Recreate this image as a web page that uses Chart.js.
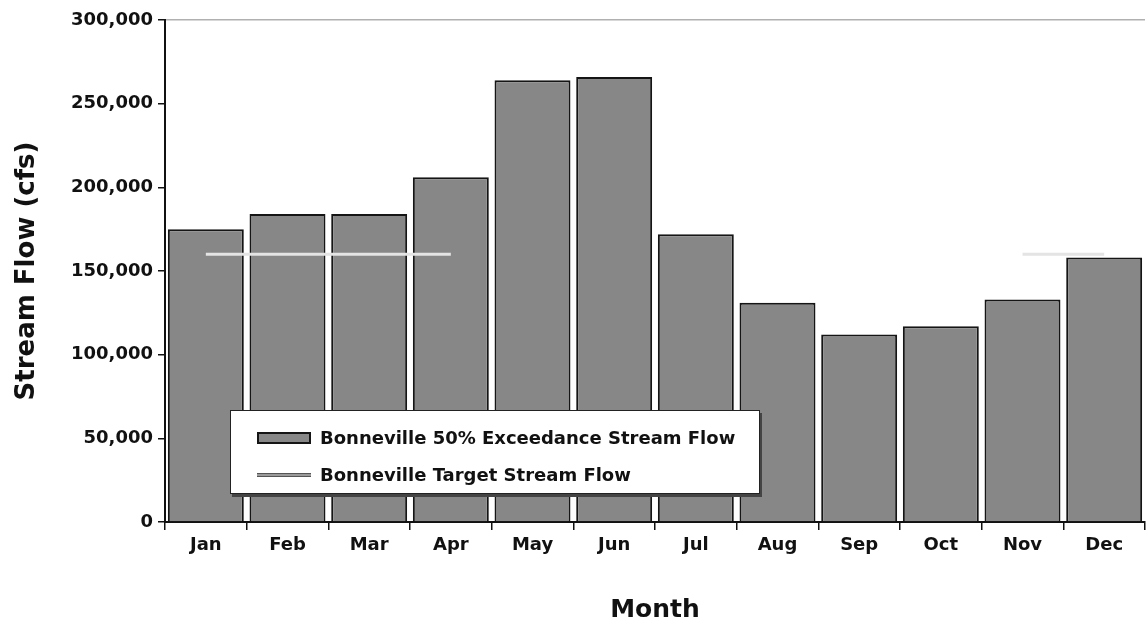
<!DOCTYPE html>
<html>
<head>
<meta charset="utf-8">
<script src="https://cdn.jsdelivr.net/npm/chart.js@4.4.1/dist/chart.umd.min.js"></script>
<style>
  html, body { margin: 0; padding: 0; background: #ffffff; }
  #wrap { position: relative; width: 1148px; height: 629px; }
  canvas { display: block; }
  #legend {
    position: absolute; left: 230px; top: 410px; width: 530px; height: 84px;
    background: #ffffff; border: 1.5px solid #222; box-shadow: 2px 3px 0 #444;
    font-family: "DejaVu Sans", "Liberation Sans", Arial, sans-serif; font-weight: bold; font-size: 18px; color: #111;
    box-sizing: border-box; padding: 8px 0 0 26px; white-space: nowrap;
  }
  .item { display: flex; align-items: center; height: 37px; }
  .sw { width: 54px; height: 12px; margin-right: 9px; box-sizing: border-box; flex: none; }
</style>
</head>
<body>
<div id="wrap">
  <canvas id="c" width="1148" height="629"></canvas>
  <div id="legend"></div>
</div>
<script>
const months = ['Jan','Feb','Mar','Apr','May','Jun','Jul','Aug','Sep','Oct','Nov','Dec'];
const exceedanceFlow = [175000, 184000, 184000, 206000, 264000, 266000, 172000, 131000, 112000, 117000, 133000, 158000];
const targetFlow = [160000, 160000, 160000, 160000, null, null, null, null, null, null, 160000, 160000];
const yTickValues = [0, 50000, 100000, 150000, 200000, 250000, 300000];
const seriesLabels = ['Bonneville 50% Exceedance Stream Flow', 'Bonneville Target Stream Flow'];
const yTitle = 'Stream Flow (cfs)';
const xTitle = 'Month';

const FONT = '"DejaVu Sans", "Liberation Sans", Arial, sans-serif';

const chart = new Chart(document.getElementById('c'), {
  data: {
    labels: months,
    datasets: [
      {
        type: 'line',
        label: seriesLabels[1],
        data: targetFlow,
        borderColor: '#e4e4e4',
        borderWidth: 3,
        pointRadius: 0,
        spanGaps: false,
        fill: false,
        order: 0
      },
      {
        type: 'bar',
        label: seriesLabels[0],
        data: exceedanceFlow,
        backgroundColor: '#878787',
        borderColor: '#151515',
        borderWidth: 2,
        categoryPercentage: 0.93,
        barPercentage: 1.0,
        order: 1
      }
    ]
  },
  options: {
    responsive: false,
    animation: false,
    layout: { padding: { top: 20, right: 3, left: 0, bottom: 0 } },
    plugins: {
      legend: { display: false },
      tooltip: { enabled: false }
    },
    scales: {
      x: {
        type: 'category',
        offset: true,
        grid: { offset: true, drawOnChartArea: false, drawTicks: true, tickLength: 8, color: '#111', tickColor: '#111', lineWidth: 1.5 },
        border: { color: '#111', width: 2 },
        ticks: { color: '#111', padding: 5, font: { family: FONT, weight: 'bold', size: 18 } },
        title: { display: true, text: xTitle, color: '#111', padding: { top: 4, bottom: 4 }, font: { family: FONT, weight: 'bold', size: 25 } },
        afterFit: (s) => { s.height = 107; }
      },
      y: {
        min: 0, max: 300000,
        afterBuildTicks: (s) => { s.ticks = yTickValues.map(v => ({ value: v })); },
        grid: {
          drawOnChartArea: true, drawTicks: true, tickLength: 7,
          color: (ctx) => (ctx.tick && ctx.tick.value === 300000) ? '#b0b0b0' : 'rgba(0,0,0,0)',
          tickColor: '#111', lineWidth: 1.5
        },
        border: { color: '#111', width: 2 },
        ticks: {
          color: '#111', padding: 5,
          font: { family: FONT, weight: 'bold', size: 18 },
          callback: (v) => Number(v).toLocaleString('en-US')
        },
        title: { display: true, text: yTitle, color: '#111', padding: { top: 12, bottom: 4 }, font: { family: FONT, weight: 'bold', size: 26 } },
        afterFit: (s) => { s.width = 165; }
      }
    }
  }
});

// Legend built from the chart's datasets
const legendEl = document.getElementById('legend');
[1, 0].forEach(i => {
  const ds = chart.data.datasets[i];
  const item = document.createElement('div');
  item.className = 'item';
  const sw = document.createElement('div');
  sw.className = 'sw';
  if (ds.type === 'bar') {
    sw.style.background = ds.backgroundColor;
    sw.style.border = '2px solid ' + ds.borderColor;
  } else {
    sw.style.height = '4px';
    sw.style.background = '#9a9a9a';
    sw.style.borderTop = '1px solid #555';
    sw.style.borderBottom = '1px solid #555';
  }
  const txt = document.createElement('span');
  txt.textContent = ds.label;
  item.appendChild(sw);
  item.appendChild(txt);
  legendEl.appendChild(item);
});
</script>
</body>
</html>
